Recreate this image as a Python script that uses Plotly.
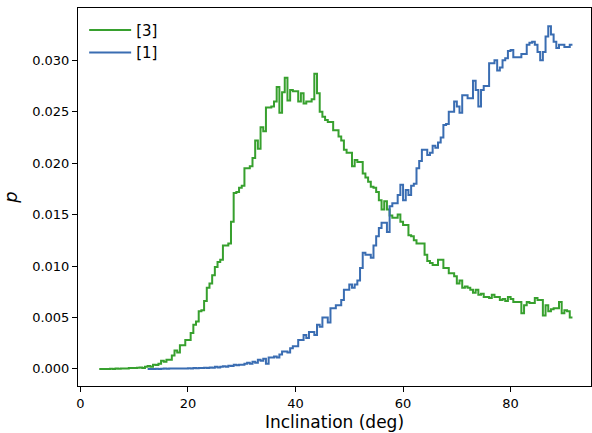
import numpy as np
import plotly.graph_objects as go

# Bin width (deg) and first left edge of each series
BIN = 0.5
green_start = 3.5
blue_start = 12.5

# Series [3] (green), p per bin from 3.5 deg upward
green_p = [
    0.0, 0.0, 0.0, 0.0, 0.00002, 0.0, 0.00003, 0.00002, 0.00005, 0.00003,
    0.00005, 0.00008, 0.0001, 0.00008, 0.00012, 0.00015, 0.0001, 0.0002, 0.00028, 0.0002,
    0.0004, 0.00038, 0.0005, 0.0008, 0.0007, 0.0009, 0.0009, 0.0013, 0.0018, 0.0016,
    0.0023, 0.0023, 0.0028, 0.0028, 0.0035, 0.0043, 0.0046, 0.0056, 0.0057, 0.0066,
    0.0079, 0.0083, 0.0091, 0.0099, 0.0104, 0.0106, 0.0120, 0.0120, 0.0122, 0.0143,
    0.0171, 0.0172, 0.0176, 0.0178, 0.0195, 0.0195, 0.0197, 0.0205, 0.0222, 0.0214,
    0.0235, 0.0231, 0.0254, 0.0254, 0.0255, 0.0260, 0.0274, 0.0249, 0.0269, 0.0283,
    0.0261, 0.0271, 0.0270, 0.0270, 0.0260, 0.0268, 0.0258, 0.0260, 0.0260, 0.0262,
    0.0287, 0.0268, 0.0250, 0.0245, 0.0242, 0.0240, 0.0240, 0.0232, 0.0232, 0.0226,
    0.0222, 0.0213, 0.0210, 0.0210, 0.0197, 0.0203, 0.0201, 0.0201, 0.0190, 0.0186,
    0.0182, 0.0177, 0.0176, 0.0172, 0.0164, 0.0155, 0.0163, 0.0155, 0.0149, 0.0147,
    0.0147, 0.0150, 0.0143, 0.0140, 0.0140, 0.0130, 0.0129, 0.0125, 0.0122, 0.0122,
    0.0122, 0.0111, 0.0105, 0.0103, 0.0101, 0.0101, 0.0106, 0.0106, 0.0098, 0.0098,
    0.0093, 0.0093, 0.0090, 0.0083, 0.0086, 0.0079, 0.0080, 0.0079, 0.0077, 0.0074,
    0.0077, 0.0072, 0.0073, 0.0070, 0.0070, 0.0069, 0.0072, 0.0070, 0.0070, 0.0067,
    0.0068, 0.0066, 0.0070, 0.0068, 0.0065, 0.0065, 0.0065, 0.0054, 0.0062, 0.0065,
    0.0064, 0.0064, 0.0069, 0.0067, 0.0067, 0.0052, 0.0062, 0.0056, 0.0058, 0.0059,
    0.0059, 0.0065, 0.0054, 0.0057, 0.0056, 0.0050,
]

# Series [1] (blue), p per bin from 12.5 deg upward
blue_p = [
    0.0, 0.0, 0.0, 0.00002, 0.0, 0.00002, 0.00003, 0.00002, 0.00003, 0.00005,
    0.00003, 0.00005, 0.00003, 0.00005, 0.00004, 0.00006, 0.00005, 0.00008, 0.00006, 0.0001,
    0.00008, 0.00012, 0.0001, 0.00015, 0.00012, 0.0002, 0.00015, 0.0002, 0.00025, 0.0002,
    0.0003, 0.00028, 0.0004, 0.00035, 0.0004, 0.0004, 0.0005, 0.0006, 0.0005, 0.0007,
    0.0006, 0.0009, 0.0008, 0.0010, 0.0005, 0.0011, 0.0011, 0.0012, 0.0011, 0.0014,
    0.0017, 0.0017, 0.0016, 0.0020, 0.0022, 0.0022, 0.0028, 0.0028, 0.0033, 0.0030,
    0.0036, 0.0036, 0.0033, 0.0043, 0.0041, 0.0050, 0.0050, 0.0045, 0.0059, 0.0059,
    0.0062, 0.0062, 0.0067, 0.0077, 0.0077, 0.0082, 0.0079, 0.0082, 0.0086, 0.0098,
    0.0113, 0.0111, 0.0111, 0.0108, 0.0120, 0.0129, 0.0137, 0.0142, 0.0142, 0.0133,
    0.0158, 0.0161, 0.0161, 0.0169, 0.0179, 0.0164, 0.0174, 0.0169, 0.0178, 0.0180,
    0.0195, 0.0202, 0.0213, 0.0213, 0.0208, 0.0210, 0.0217, 0.0215, 0.0220, 0.0225,
    0.0237, 0.0238, 0.0250, 0.0250, 0.0260, 0.0255, 0.0249, 0.0266, 0.0266, 0.0263,
    0.0263, 0.0280, 0.0271, 0.0255, 0.0271, 0.0275, 0.0275, 0.0297, 0.0297, 0.0300,
    0.0290, 0.0293, 0.0300, 0.0302, 0.0309, 0.0310, 0.0303, 0.0303, 0.0303, 0.0306,
    0.0306, 0.0315, 0.0317, 0.0318, 0.0315, 0.0308, 0.0300, 0.0308, 0.0323, 0.0333,
    0.0325, 0.0318, 0.0312, 0.0315, 0.0315, 0.0313, 0.0313, 0.0315,
]

labels = ["[3]", "[1]"]
colors = ["#37a02e", "#3a6db2"]

x_ticks = [0, 20, 40, 60, 80]
y_ticks = [0.000, 0.005, 0.010, 0.015, 0.020, 0.025, 0.030]


def step_xy(start, vals):
    x = start + BIN * np.arange(len(vals) + 1)
    y = list(vals) + [vals[-1]]
    return x, y


fig = go.Figure()
for i, (start, vals) in enumerate([(green_start, green_p), (blue_start, blue_p)]):
    x, y = step_xy(start, vals)
    fig.add_trace(go.Scatter(
        x=x, y=y, mode="lines", name=labels[i], legendgroup=labels[i],
        line=dict(color=colors[i], width=2, shape="hv"),
    ))

axis_common = dict(
    showline=True, linecolor="black", linewidth=1, mirror=True,
    ticks="outside", ticklen=5, tickwidth=1, tickcolor="black",
    showgrid=False, zeroline=False, automargin=False,
    tickfont=dict(family="DejaVu Sans", size=13, color="black"),
)

fig.update_layout(
    width=592, height=433,
    margin=dict(l=78, r=1, t=8, b=47),
    plot_bgcolor="white", paper_bgcolor="white",
    font=dict(family="DejaVu Sans", color="black"),
    showlegend=True,
    legend=dict(
        x=0.012, y=0.985, xanchor="left", yanchor="top",
        bgcolor="rgba(0,0,0,0)", font=dict(size=15, family="DejaVu Sans", color="black"),
        tracegroupgap=0, itemwidth=42,
    ),
    xaxis=dict(
        range=[-0.45, 94.95], tickvals=x_ticks,
        title=dict(text="Inclination (deg)", font=dict(size=17), standoff=6),
        **axis_common,
    ),
    yaxis=dict(
        range=[-0.00166, 0.03508], tickvals=y_ticks,
        ticktext=[f"{v:.3f}" for v in y_ticks],
        title=dict(text="<i>p</i>", font=dict(size=18), standoff=10),
        **axis_common,
    ),
)

fig.write_html(
    "out.html",
    config={"displayModeBar": False},
    post_script="document.body.style.margin='0';document.body.style.overflow='hidden';",
)
